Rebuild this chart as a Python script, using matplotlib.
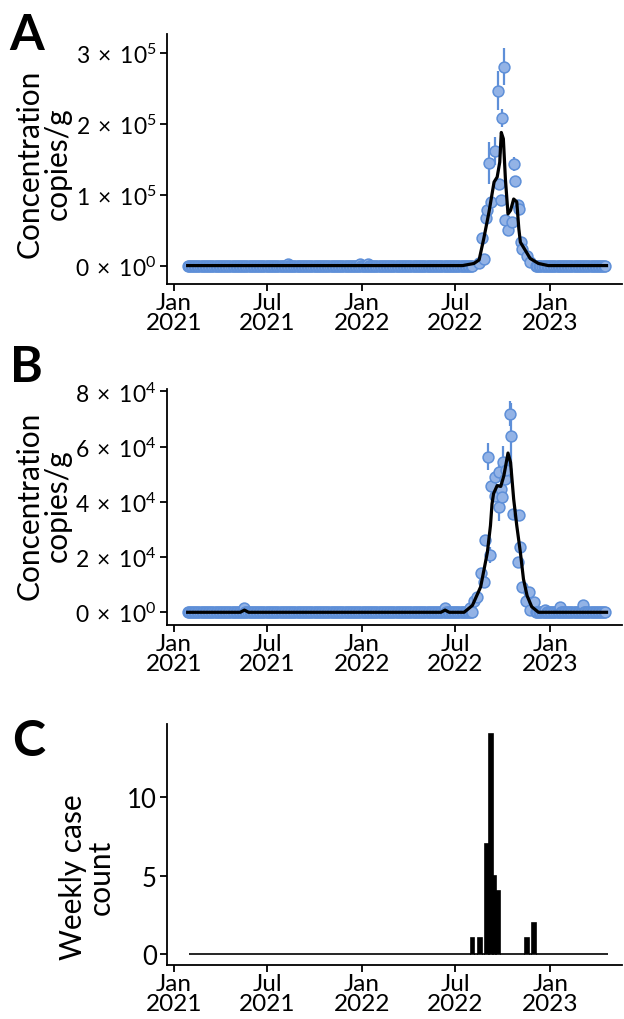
import matplotlib
matplotlib.use("Agg")
import matplotlib.pyplot as plt
import matplotlib.dates as mdates
import numpy as np
import pandas as pd

plt.rcParams['font.family'] = ['Lato', 'DejaVu Sans']
plt.rcParams['mathtext.fontset'] = 'custom'
plt.rcParams['mathtext.rm'] = 'Lato'
plt.rcParams['mathtext.it'] = 'Lato:italic'

# ---------------- data ----------------
# sampling schedule outside the surge (values ~0)
baseline_start = '2021-01-28'
baseline_end = '2023-04-20'
surge_window = ('2022-08-04', '2022-12-03')

# Panel A: concentration (copies/g) during surge
a_dates = ['2022-08-16', '2022-08-22', '2022-08-25', '2022-08-29', '2022-09-01', '2022-09-05',
           '2022-09-09', '2022-09-16', '2022-09-22', '2022-09-23', '2022-09-27', '2022-09-30',
           '2022-10-03', '2022-10-06', '2022-10-11', '2022-10-19', '2022-10-22', '2022-10-25',
           '2022-10-31', '2022-11-02', '2022-11-05', '2022-11-07', '2022-11-17', '2022-11-23']
a_values = [3e3, 3.9e4, 1.0e4, 6.7e4, 7.8e4, 1.45e5,
            9.0e4, 1.62e5, 2.47e5, 1.15e5, 9.2e4, 2.08e5,
            2.81e5, 6.4e4, 5.0e4, 6.1e4, 1.43e5, 1.2e5,
            8.5e4, 8.0e4, 3.3e4, 2.3e4, 1.4e4, 5e3]
a_errors = [0, 0, 0, 0, 0, 3.0e4,
            0, 2.0e4, 2.8e4, 0, 0, 1.3e4,
            2.6e4, 0, 0, 0, 1.0e4, 0.5e4,
            0, 0, 0, 0, 0, 0]
# small baseline bumps in A
a_bump_dates = ['2021-08-10', '2021-12-28', '2022-01-12']
a_bump_values = [2e3, 2e3, 2e3]

# Panel A smoothed trend
a_line_dates = ['2021-01-28', '2022-07-15', '2022-08-06', '2022-08-16', '2022-08-25', '2022-09-04',
                '2022-09-14', '2022-09-20', '2022-09-25', '2022-09-28', '2022-10-02', '2022-10-06',
                '2022-10-11', '2022-10-16', '2022-10-22', '2022-10-28', '2022-11-01', '2022-11-04',
                '2022-11-14', '2022-11-23', '2022-12-09', '2022-12-28', '2023-04-20']
a_line_values = [0, 0, 3e3, 8e3, 3.8e4, 7.5e4,
                 1.18e5, 1.25e5, 1.46e5, 1.88e5, 1.79e5, 1.22e5,
                 7.3e4, 7.8e4, 9.4e4, 9.0e4, 5.2e4, 3.3e4,
                 2.1e4, 1.0e4, 3e3, 0, 0]

# Panel B: concentration (copies/g) during surge
b_dates = ['2022-07-30', '2022-08-06', '2022-08-12', '2022-08-19', '2022-08-25', '2022-08-27',
           '2022-09-02', '2022-09-07', '2022-09-09', '2022-09-15', '2022-09-16', '2022-09-23',
           '2022-09-24', '2022-09-28', '2022-09-29', '2022-10-01', '2022-10-06', '2022-10-08',
           '2022-10-14', '2022-10-16', '2022-10-20', '2022-10-30', '2022-11-01', '2022-11-04',
           '2022-11-08', '2022-11-14', '2022-11-20', '2022-11-23', '2022-11-30']
b_values = [1.5e3, 4.0e3, 5.4e3, 1.41e4, 1.09e4, 2.63e4,
            5.64e4, 2.08e4, 4.57e4, 4.89e4, 4.22e4, 5.07e4,
            3.8e4, 4.47e4, 4.16e4, 5.43e4, 4.83e4, 5.17e4,
            7.2e4, 6.4e4, 3.56e4, 1.83e4, 3.53e4, 2.38e4,
            9.1e3, 4.2e3, 7.2e3, 1.0e3, 3.8e3]
b_errors = [0, 0, 0, 0, 0, 0,
            5.0e3, 3.0e3, 0, 0, 0, 3.0e3,
            5.0e3, 0, 0, 6.0e3, 0, 0,
            4.5e3, 1.2e4, 0, 0, 0, 0,
            0, 0, 0, 0, 0]
b_bump_dates = ['2021-05-18', '2022-06-11', '2022-12-22', '2023-01-20', '2023-03-06']
b_bump_values = [1.5e3, 1.5e3, 1.0e3, 2.0e3, 2.5e3]

b_line_dates = ['2021-01-28', '2021-05-10', '2021-05-18', '2021-05-26', '2022-06-03', '2022-06-11',
                '2022-06-19', '2022-07-18', '2022-08-03', '2022-08-19', '2022-09-01', '2022-09-07',
                '2022-09-10', '2022-09-13', '2022-09-20', '2022-09-27', '2022-10-03', '2022-10-11',
                '2022-10-16', '2022-10-22', '2022-10-28', '2022-11-04', '2022-11-10', '2022-11-17',
                '2022-11-26', '2022-12-09', '2023-04-20']
b_line_values = [0, 0, 8e2, 0, 0, 8e2,
                 0, 0, 2.5e3, 9.2e3, 2.17e4, 3.14e4,
                 3.92e4, 4.3e4, 4.59e4, 4.56e4, 4.95e4, 5.77e4,
                 5.43e4, 4.1e4, 3.14e4, 2.17e4, 1.2e4, 6.0e3,
                 2.0e3, 0, 0]

# Panel C: weekly case counts
week_start = '2021-01-31'
week_end = '2023-04-16'
case_weeks = ['2022-07-31', '2022-08-14', '2022-08-28', '2022-09-04', '2022-09-11',
              '2022-09-18', '2022-11-13', '2022-11-27']
case_counts = [1, 1, 7, 14, 5, 4, 1, 2]

# ---------------- build series ----------------
base_dates = pd.date_range(baseline_start, baseline_end, freq='3D')
mask = (base_dates < pd.Timestamp(surge_window[0])) | (base_dates > pd.Timestamp(surge_window[1]))
base_dates = base_dates[mask]


def concentration_series(dates, values, errors, bump_dates, bump_values):
    d = list(base_dates) + [pd.Timestamp(x) for x in bump_dates] + [pd.Timestamp(x) for x in dates]
    v = [0.0] * len(base_dates) + list(bump_values) + list(values)
    e = [0.0] * len(base_dates) + [0.0] * len(bump_values) + list(errors)
    df = pd.DataFrame({'date': d, 'value': v, 'err': e}).sort_values('date')
    return df


dfA = concentration_series(a_dates, a_values, a_errors, a_bump_dates, a_bump_values)
dfB = concentration_series(b_dates, b_values, b_errors, b_bump_dates, b_bump_values)

weeks = pd.date_range(week_start, week_end, freq='7D')
cases = pd.Series(0, index=weeks)
for w, c in zip(case_weeks, case_counts):
    cases[pd.Timestamp(w)] = c

# ---------------- figure ----------------
W, H = 624, 1020
fig = plt.figure(figsize=(W / 100, H / 100), dpi=100)


def ax_rect(left_px, top_px, right_px, bottom_px):
    return [left_px / W, 1 - bottom_px / H, (right_px - left_px) / W, (bottom_px - top_px) / H]


axA = fig.add_axes(ax_rect(166.5, 35, 622, 285))
axB = fig.add_axes(ax_rect(166.5, 390, 622, 625.7))
axC = fig.add_axes(ax_rect(166.5, 725, 622, 966))

pt_face = '#93B3E6'
pt_edge = '#5E8FD8'
xmin = pd.Timestamp('2020-12-18')
xmax = pd.Timestamp('2023-05-20')
xticks = [pd.Timestamp(x) for x in ['2021-01-01', '2021-07-01', '2022-01-01', '2022-07-01', '2023-01-01']]


def style(ax, ytick_size):
    for s in ['top', 'right']:
        ax.spines[s].set_visible(False)
    for s in ['left', 'bottom']:
        ax.spines[s].set_linewidth(1.3)
        ax.spines[s].set_color('black')
    ax.set_xlim(xmin, xmax)
    ax.set_xticks(xticks)
    ax.xaxis.set_major_formatter(mdates.DateFormatter('%b\n%Y'))
    ax.tick_params(axis='x', labelsize=17.5, length=5, width=1.3, pad=1, colors='black')
    ax.tick_params(axis='y', labelsize=ytick_size, length=5, width=1.3, pad=2, colors='black')
    for lab in ax.get_xticklabels():
        lab.set_linespacing(0.92)


def conc_panel(ax, df, ldates, lvals, yticks, ylim, exp):
    ax.errorbar(df['date'], df['value'], yerr=df['err'], fmt='none', ecolor=pt_edge,
                elinewidth=1.6, capsize=0, zorder=2)
    ax.plot(df['date'], df['value'], 'o', ms=7.8, mfc=pt_face, mec=pt_edge, mew=1.1, zorder=3)
    ax.plot(pd.to_datetime(ldates), lvals, '-', color='black', lw=2.3, zorder=4)
    ax.set_ylim(*ylim)
    ax.set_yticks(yticks)
    labels = []
    for t in yticks:
        if t == 0:
            labels.append(r'$\mathregular{0\;\times\;10^{0}}$')
        else:
            labels.append(r'$\mathregular{%d\;\times\;10^{%d}}$' % (round(t / 10 ** exp), exp))
    ax.set_yticklabels(labels)


conc_panel(axA, dfA, a_line_dates, a_line_values, [0, 1e5, 2e5, 3e5], (-0.26e5, 3.27e5), 5)
conc_panel(axB, dfB, b_line_dates, b_line_values, [0, 2e4, 4e4, 6e4, 8e4], (-0.45e4, 8.09e4), 4)
style(axA, 16.5)
style(axB, 16.5)

axC.bar(cases.index, cases.values, width=7, align='edge', color='black', edgecolor='black',
        linewidth=1.2, zorder=3)
axC.set_ylim(-0.7, 14.65)
axC.set_yticks([0, 5, 10])
style(axC, 18.5)

# axis titles
fig.text(44 / W, 1 - 164 / H, 'Concentration\ncopies/g', rotation=90, ha='center', va='center',
         fontsize=21.5, multialignment='center', linespacing=1.0)
fig.text(44 / W, 1 - 506 / H, 'Concentration\ncopies/g', rotation=90, ha='center', va='center',
         fontsize=21.5, multialignment='center', linespacing=1.0)
fig.text(87 / W, 1 - 877 / H, 'Weekly case\ncount', rotation=90, ha='center', va='center',
         fontsize=21.5, multialignment='center', linespacing=1.0)

# panel letters
fig.text(9 / W, 1 - 36 / H, 'A', fontsize=36, fontweight='bold', ha='left', va='center')
fig.text(10 / W, 1 - 368 / H, 'B', fontsize=36, fontweight='bold', ha='left', va='center')
fig.text(12 / W, 1 - 742 / H, 'C', fontsize=36, fontweight='bold', ha='left', va='center')

fig.savefig('out.png', dpi=100)
